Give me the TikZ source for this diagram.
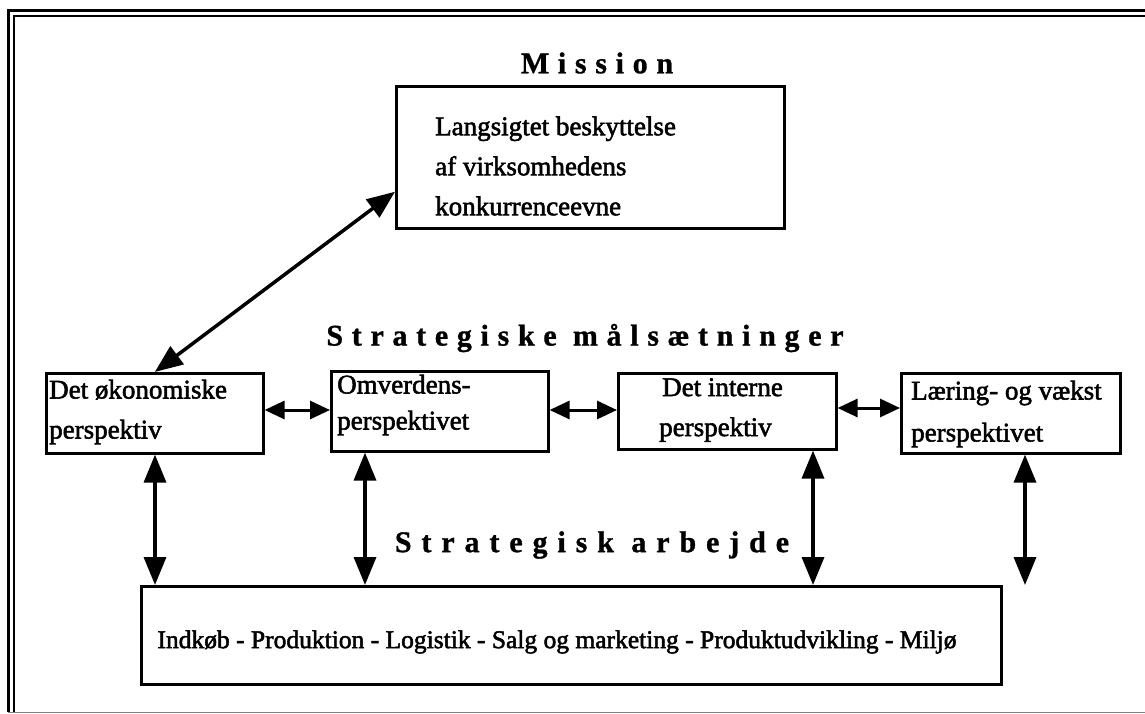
\documentclass[tikz,border=0pt]{standalone}
\usepackage{fontspec}
\setmainfont{Liberation Serif}
\newfontfamily\bodyfont[FakeBold=2]{Liberation Serif}
\newfontfamily\titlefont[LetterSpace=29,FakeBold=1]{Liberation Serif Bold}
\newfontfamily\widetitlefont[LetterSpace=33,FakeBold=1]{Liberation Serif Bold}
\usetikzlibrary{arrows.meta}

\begin{document}
\begin{tikzpicture}[x=1pt,y=-1pt,
  box/.style={draw, line width=2.6pt, inner sep=0pt, anchor=north west},
  txt/.style={font=\bodyfont\fontsize{27pt}{40pt}\selectfont, align=left, inner sep=0pt, anchor=west},
  heading/.style={font=\titlefont\fontsize{30pt}{32pt}\selectfont, inner sep=0pt},
  bigarrow/.style={line width=3.5pt, {Triangle[length=28pt,width=22pt]}-{Triangle[length=28pt,width=22pt]}},
  smallarrow/.style={line width=3pt, {Triangle[length=20pt,width=18pt]}-{Triangle[length=20pt,width=18pt]}}]

\useasboundingbox (0,0) rectangle (1145,714);

% page frame: double rule on the left and top, thin grey rule at the foot
\draw[line width=3pt] (8.5,712) -- (8.5,11) -- (1145,11);
\draw[line width=2pt] (14,712) -- (14,16.5) -- (1145,16.5);
\draw[line width=1pt, gray] (8,712.5) -- (1145,712.5);

% mission
\node[heading] (tmission) at (597,63) {Mission};
\node[box, minimum width=388pt, minimum height=142pt] (mission) at (395,85) {};
\node[txt] (mtext) at (435,166) {Langsigtet beskyttelse\\af virksomhedens\\konkurrenceevne};

% strategic goals
\node[heading] (tgoals) at (585,338) {Strategiske målsætninger};
\node[box, minimum width=217pt, minimum height=80pt] (b1) at (45,372) {};
\node[box, minimum width=217pt, minimum height=80pt] (b2) at (330,370) {};
\node[box, minimum width=218pt, minimum height=76pt] (b3) at (617,372) {};
\node[box, minimum width=219pt, minimum height=80pt] (b4) at (900,372) {};
\node[txt] (t1) at (49,412) {Det økonomiske\\perspektiv};
\node[txt, font=\bodyfont\fontsize{27pt}{36pt}\selectfont] (t2) at (337,405) {Omverdens-\\perspektivet};
\node[txt] (t3) at (659,410) {\hspace{3pt}Det interne\\perspektiv};
\node[txt, font=\bodyfont\fontsize{27pt}{42pt}\selectfont] (t4) at (911,414) {Læring- og vækst\\perspektivet};

% strategic work
\node[heading, font=\widetitlefont\fontsize{30pt}{32pt}\selectfont] (twork) at (592,545) {Strategisk arbejde};
\node[box, minimum width=860pt, minimum height=98pt] (work) at (140,585) {};
\node[txt, anchor=center, font=\bodyfont\fontsize{25.5pt}{30pt}\selectfont] (wtext) at (557,642) {Indkøb - Produktion - Logistik - Salg og marketing - Produktudvikling - Miljø};

% connectors
\draw[bigarrow] (b1.north) -- (mission.190);
\draw[smallarrow] (b1.east |- 0,410) -- (b2.west |- 0,410);
\draw[smallarrow] (b2.east |- 0,410) -- (b3.west |- 0,410);
\draw[smallarrow] (b3.east |- 0,408) -- (b4.west |- 0,408);
\draw[bigarrow] (155,0 |- b1.south) -- (155,0 |- work.north);
\draw[bigarrow] (365,0 |- b2.south) -- (365,0 |- work.north);
\draw[bigarrow] (813,0 |- b3.south) -- (813,0 |- work.north);
\draw[bigarrow] (1025,0 |- b4.south) -- (1025,0 |- work.north);
\end{tikzpicture}
\end{document}
